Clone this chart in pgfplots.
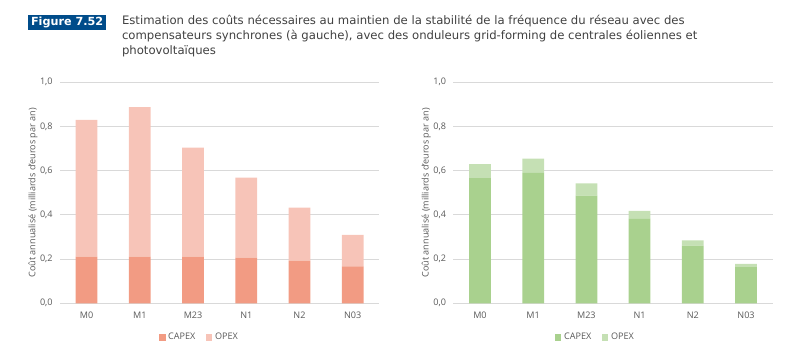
\documentclass[border=0pt]{standalone}
\usepackage{pgfplots}
\pgfplotsset{compat=1.18}
\usepackage{fontspec}
\setmainfont{Open Sans}
\newfontfamily\titlefont{DejaVu Sans}
\definecolor{capexL}{HTML}{F29B83}
\definecolor{opexL}{HTML}{F7C4B8}
\definecolor{capexR}{HTML}{A9D18E}
\definecolor{opexR}{HTML}{C5E0B4}
\definecolor{figblue}{HTML}{004C8A}
\definecolor{txtgray}{HTML}{595959}
\definecolor{gridgray}{HTML}{D9D9D9}
\definecolor{titlegray}{HTML}{404040}
\pgfplotsset{
  mychart/.style={
    scale only axis,
    width=239.5pt, height=165.75pt,
    ymin=0, ymax=1.0,
    xmin=-0.5, xmax=5.5,
    ytick={0,0.2,0.4,0.6,0.8,1.0},
    xtick={0,1,2,3,4,5},
    xticklabels={M0,M1,M23,N1,N2,N03},
    ymajorgrids,
    grid style={gridgray, line width=0.6pt},
    axis line style={draw=none},
    major tick length=0pt,
    ybar stacked,
    bar width=16.3pt,
    /pgf/number format/assume math mode=true,
    yticklabel style={/pgf/number format/fixed, /pgf/number format/fixed zerofill, /pgf/number format/precision=1, /pgf/number format/use comma, xshift=-2pt},
    ticklabel style={font=\fontsize{6.8}{8}\selectfont, text=txtgray},
    xticklabel style={yshift=-3pt},
    ylabel={Coût annualisé (milliards d'euros par an)},
    ylabel style={font=\fontsize{6.8}{8}\selectfont, text=txtgray, yshift=-5pt},
    legend columns=2,
    legend style={draw=none, fill=none, font=\fontsize{6.8}{8}\selectfont, text=txtgray,
      /tikz/every even column/.append style={column sep=6pt}},
    legend image code/.code={\fill[##1] (0pt,-2.4pt) rectangle (4.8pt,2.4pt);},
  }
}
\begin{document}
\begin{tikzpicture}
\path (0,0) rectangle (596.25pt,270.75pt);
% title
\fill[figblue] (21.2pt,248.25pt) rectangle (79.5pt,259.5pt);
\node[text=white, font=\titlefont\bfseries\fontsize{8.4}{9}\selectfont] at (50.35pt,253.9pt) {Figure 7.52};
\node[anchor=west, text=titlegray, font=\titlefont\fontsize{8.75}{11.25}\selectfont, align=left, inner sep=0pt] at (91.3pt,243.5pt)
 {Estimation des coûts nécessaires au maintien de la stabilité de la fréquence du réseau avec des\\
  compensateurs synchrones (à gauche), avec des onduleurs grid-forming de centrales éoliennes et\\
  photovoltaïques};
\begin{axis}[mychart, at={(45pt,43.3pt)}, anchor=south west,
  legend style={at={(0.438,-0.154)}, anchor=center}]
\addplot[fill=capexL, draw=none] coordinates {(0,0.211) (1,0.211) (2,0.211) (3,0.207) (4,0.193) (5,0.167)};
\addplot[fill=opexL, draw=none] coordinates {(0,0.619) (1,0.677) (2,0.493) (3,0.362) (4,0.240) (5,0.142)};
\legend{CAPEX,OPEX}
\end{axis}
\begin{axis}[mychart, at={(340pt,43.3pt)}, anchor=south west,
  legend style={at={(0.446,-0.154)}, anchor=center}]
\addplot[fill=capexR, draw=none] coordinates {(0,0.566) (1,0.590) (2,0.487) (3,0.382) (4,0.261) (5,0.164)};
\addplot[fill=opexR, draw=none] coordinates {(0,0.064) (1,0.065) (2,0.056) (3,0.036) (4,0.024) (5,0.014)};
\legend{CAPEX,OPEX}
\end{axis}
\end{tikzpicture}
\end{document}
